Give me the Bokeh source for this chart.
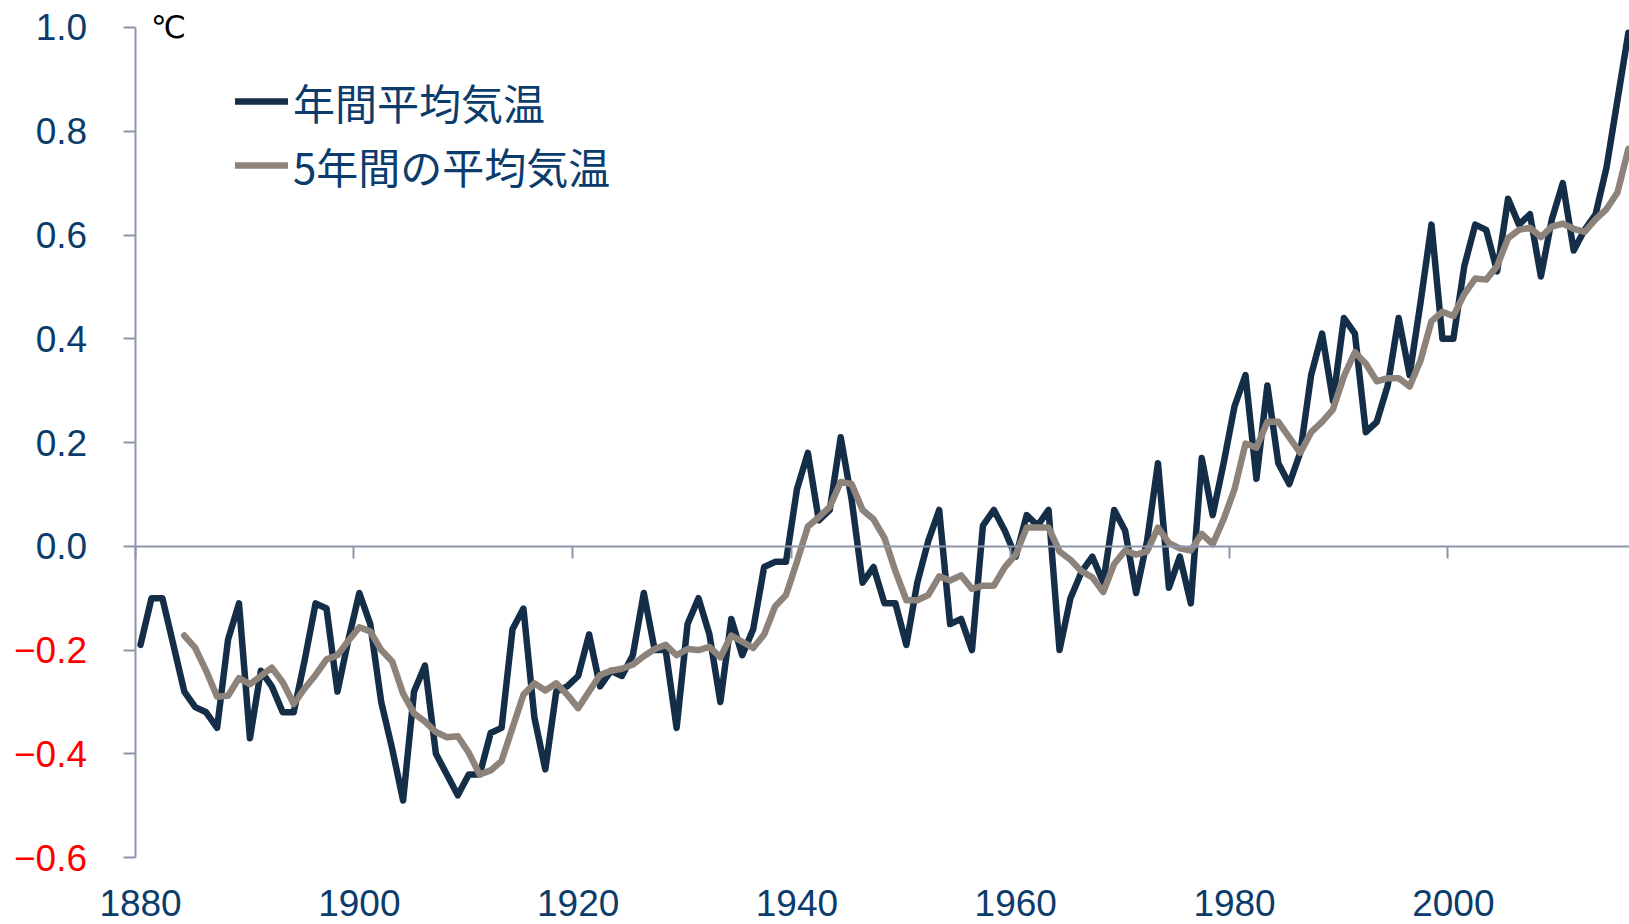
from bokeh.plotting import figure
from bokeh.models import (Range1d, LinearAxis, FixedTicker, Legend, LegendItem, Label)
from bokeh.embed import file_html
from bokeh.resources import INLINE

# ---------------- data ----------------
years = list(range(1880, 2017))
annual = [
    -0.19, -0.10, -0.10, -0.19, -0.28, -0.31, -0.32, -0.35, -0.18, -0.11,  # 1880s
    -0.37, -0.24, -0.27, -0.32, -0.32, -0.22, -0.11, -0.12, -0.28, -0.18,  # 1890s
    -0.09, -0.15, -0.30, -0.39, -0.49, -0.28, -0.23, -0.40, -0.44, -0.48,  # 1900s
    -0.44, -0.44, -0.36, -0.35, -0.16, -0.12, -0.33, -0.43, -0.28, -0.27,  # 1910s
    -0.25, -0.17, -0.27, -0.24, -0.25, -0.21, -0.09, -0.20, -0.20, -0.35,  # 1920s
    -0.15, -0.10, -0.17, -0.30, -0.14, -0.21, -0.16, -0.04, -0.03, -0.03,  # 1930s
    0.11, 0.18, 0.05, 0.07, 0.21, 0.09, -0.07, -0.04, -0.11, -0.11,        # 1940s
    -0.19, -0.07, 0.01, 0.07, -0.15, -0.14, -0.20, 0.04, 0.07, 0.03,       # 1950s
    -0.02, 0.06, 0.04, 0.07, -0.20, -0.10, -0.05, -0.02, -0.07, 0.07,      # 1960s
    0.03, -0.09, 0.01, 0.16, -0.08, -0.02, -0.11, 0.17, 0.06, 0.16,        # 1970s
    0.27, 0.33, 0.13, 0.31, 0.16, 0.12, 0.18, 0.33, 0.41, 0.28,            # 1980s
    0.44, 0.41, 0.22, 0.24, 0.31, 0.44, 0.33, 0.47, 0.62, 0.40,            # 1990s
    0.40, 0.54, 0.62, 0.61, 0.53, 0.67, 0.62, 0.64, 0.52, 0.63,            # 2000s
    0.70, 0.57, 0.61, 0.64, 0.73, 0.86, 0.99,                              # 2010s
]

five_years = list(range(1884, 2017))
five_year_mean = [
    -0.172, -0.196, -0.240, -0.290, -0.288, -0.254,                        # 1884-1889
    -0.266, -0.250, -0.234, -0.262, -0.304, -0.274, -0.248, -0.218, -0.210, -0.182,
    -0.156, -0.164, -0.200, -0.222, -0.284, -0.322, -0.338, -0.358, -0.368, -0.366,
    -0.398, -0.440, -0.432, -0.414, -0.350, -0.286, -0.264, -0.278, -0.264, -0.286,
    -0.312, -0.280, -0.248, -0.240, -0.236, -0.228, -0.212, -0.198, -0.190, -0.210,
    -0.198, -0.200, -0.194, -0.214, -0.172, -0.184, -0.196, -0.170, -0.116, -0.094,
    -0.030, 0.038, 0.056, 0.076, 0.124, 0.120, 0.070, 0.052, 0.016, -0.048,
    -0.104, -0.104, -0.094, -0.058, -0.066, -0.056, -0.082, -0.076, -0.076, -0.040,
    -0.016, 0.036, 0.036, 0.036, -0.010, -0.026, -0.048, -0.060, -0.088, -0.034,
    -0.008, -0.016, -0.010, 0.036, 0.006, -0.004, -0.008, 0.024, 0.004, 0.052,
    0.110, 0.198, 0.190, 0.240, 0.240, 0.210, 0.180, 0.220, 0.240, 0.264,
    0.328, 0.374, 0.352, 0.318, 0.324, 0.324, 0.308, 0.358, 0.434, 0.452,
    0.444, 0.486, 0.516, 0.514, 0.540, 0.594, 0.610, 0.614, 0.596, 0.616,
    0.622, 0.612, 0.606, 0.630, 0.650, 0.682, 0.766,
]

x_label_years = [1880, 1900, 1920, 1940, 1960, 1980, 2000]
y_ticks = [-0.6, -0.4, -0.2, 0.0, 0.2, 0.4, 0.6, 0.8, 1.0]
y_tick_labels = ["\u22120.6", "\u22120.4", "\u22120.2", "0.0", "0.2", "0.4", "0.6", "0.8", "1.0"]
series_names = ["年間平均気温", "5年間の平均気温"]
unit_label = "℃"

# ---------------- style ----------------
C_ANNUAL = "#152e48"
C_FIVE = "#8d837a"
C_TEXT = "#0b3c6c"
C_AXIS = "#8c96aa"
C_NEG = "#ff0000"
NUM_FONT = "Liberation Sans"
JP_FONT = "Noto Sans CJK JP"
LINE_W = 6.5
NUM_SIZE = "37px"

X_START = x_label_years[0] - 0.5          # category boundary where the y axis sits
X_RANGE = (1867.2, 2016.1)                # frame spans the full figure
Y_RANGE = (-0.729, 1.052)

p = figure(width=1629, height=924,
           x_range=Range1d(*X_RANGE), y_range=Range1d(*Y_RANGE),
           x_axis_location=None, y_axis_location=None,
           output_backend="svg", toolbar_location=None,
           min_border=0, min_border_left=0, min_border_right=0,
           min_border_top=0, min_border_bottom=0)
p.outline_line_color = None
p.grid.visible = False
p.background_fill_color = "white"
p.border_fill_color = "white"

r1 = p.line(years, annual, line_color=C_ANNUAL, line_width=LINE_W,
            line_join="round", line_cap="round")
r2 = p.line(five_years, five_year_mean, line_color=C_FIVE, line_width=LINE_W,
            line_join="round", line_cap="round")

# ---- x axis line at y = 0, ticks between categories (minor ticks -> no labels)
zero_ticks = [y - 0.5 for y in x_label_years] + [x_label_years[-1] + 19.5]
x_line = LinearAxis(fixed_location=0, bounds=(X_START, X_RANGE[1]),
                    ticker=FixedTicker(ticks=[], minor_ticks=zero_ticks),
                    axis_line_color=C_AXIS, axis_line_width=2,
                    major_tick_line_color=None,
                    minor_tick_line_color=C_AXIS, minor_tick_line_width=2,
                    minor_tick_out=12, minor_tick_in=0)
p.add_layout(x_line, "below")

# ---- x labels at the bottom
x_lab = LinearAxis(fixed_location=y_ticks[0],
                   ticker=FixedTicker(ticks=x_label_years),
                   major_label_overrides={y: str(y) for y in x_label_years},
                   axis_line_color=None, major_tick_line_color=None,
                   minor_tick_line_color=None, major_tick_out=0, major_tick_in=0,
                   major_label_standoff=32,
                   major_label_text_font=NUM_FONT,
                   major_label_text_font_size=NUM_SIZE,
                   major_label_text_color=C_TEXT)
p.add_layout(x_lab, "below")

# ---- y axis line and tick marks
y_line = LinearAxis(fixed_location=X_START, bounds=(y_ticks[0], y_ticks[-1]),
                    ticker=FixedTicker(ticks=[], minor_ticks=y_ticks),
                    axis_line_color=C_AXIS, axis_line_width=2,
                    major_tick_line_color=None,
                    minor_tick_line_color=C_AXIS, minor_tick_line_width=2,
                    minor_tick_out=12, minor_tick_in=0)
p.add_layout(y_line, "left")

# ---- y labels: non-negative in navy, negative in red
pos_ticks = [t for t in y_ticks if t >= 0]
neg_ticks = [t for t in y_ticks if t < 0]
lab_of = dict(zip(y_ticks, y_tick_labels))
for ticks, color in ((pos_ticks, C_TEXT), (neg_ticks, C_NEG)):
    ax = LinearAxis(fixed_location=X_START,
                    ticker=FixedTicker(ticks=ticks),
                    major_label_overrides={t: lab_of[t] for t in ticks},
                    axis_line_color=None, major_tick_line_color=None,
                    minor_tick_line_color=None, major_tick_out=0, major_tick_in=0,
                    major_label_standoff=48,
                    major_label_text_font=NUM_FONT,
                    major_label_text_font_size=NUM_SIZE,
                    major_label_text_color=color)
    p.add_layout(ax, "left")

# ---- unit label
p.add_layout(Label(x=X_START, y=y_ticks[-1], x_offset=16, y_offset=0,
                   text=unit_label, text_align="left", text_baseline="middle",
                   text_font="DejaVu Sans", text_font_size="31px",
                   text_color="black"))

# ---- legend
legend = Legend(items=[LegendItem(label=series_names[0], renderers=[r1]),
                       LegendItem(label=series_names[1], renderers=[r2])],
                location=(235, 727), orientation="vertical",
                glyph_width=53, glyph_height=64, label_height=64, spacing=0,
                padding=0, margin=0, label_standoff=5,
                border_line_color=None, background_fill_alpha=0,
                label_text_font=JP_FONT, label_text_font_size="42px",
                label_text_color=C_TEXT)
p.add_layout(legend)

open("out.html", "w").write(file_html(p, INLINE))
